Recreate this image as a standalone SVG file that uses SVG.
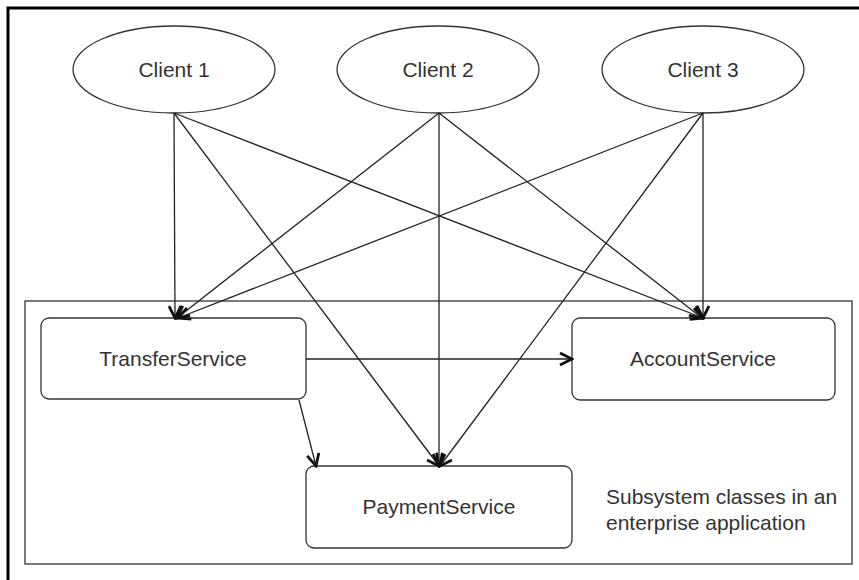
<svg xmlns="http://www.w3.org/2000/svg" width="859" height="580" viewBox="0 0 859 580">
<style>
.frame{fill:none;stroke:#000;stroke-width:3}
.box{fill:#fff;stroke:#333;stroke-width:1.3}
.lbl{font-family:"Liberation Sans",Arial,sans-serif;font-size:21px;fill:#333;text-anchor:middle}
.note{font-family:"Liberation Sans",Arial,sans-serif;font-size:21px;fill:#333}
.c{fill:none;stroke:#222;stroke-width:1.3;marker-end:url(#arr)}
</style>
<defs>
<marker id="arr" markerUnits="userSpaceOnUse" markerWidth="16" markerHeight="16" viewBox="0 0 16 16" refX="14" refY="8" orient="auto">
<path d="M2,2 L14,8 L2,14" fill="none" stroke="#111" stroke-width="2.8"/>
</marker>
</defs>
<rect width="859" height="580" fill="#fff"/>
<path class="frame" d="M8,590 V8 H870"/>
<g id="subsystem">
<rect class="box" x="25" y="301" width="827" height="263"/>
<text class="note" x="606" y="504">Subsystem classes in an</text>
<text class="note" x="606" y="530">enterprise application</text>
</g>
<g id="client1">
<ellipse class="box" cx="174" cy="69.5" rx="101" ry="43.5"/>
<text class="lbl" x="174" y="77">Client 1</text>
</g>
<g id="client2">
<ellipse class="box" cx="438" cy="69.5" rx="101" ry="43.5"/>
<text class="lbl" x="438" y="77">Client 2</text>
</g>
<g id="client3">
<ellipse class="box" cx="703" cy="69.5" rx="101" ry="43.5"/>
<text class="lbl" x="703" y="77">Client 3</text>
</g>
<g id="transfer">
<rect class="box" x="41" y="318" width="265" height="81" rx="8"/>
<text class="lbl" x="173" y="366">TransferService</text>
</g>
<g id="account">
<rect class="box" x="572" y="318" width="263" height="82" rx="8"/>
<text class="lbl" x="703" y="366">AccountService</text>
</g>
<g id="payment">
<rect class="box" x="306" y="466" width="266" height="82" rx="8"/>
<text class="lbl" x="439" y="514">PaymentService</text>
</g>
<g id="connectors">
<path class="c" d="M174,113 L175,318"/>
<path class="c" d="M174,113 L439,466"/>
<path class="c" d="M174,113 L703,318"/>
<path class="c" d="M439,113 L177,318"/>
<path class="c" d="M439,113 L439,466"/>
<path class="c" d="M439,113 L702,318"/>
<path class="c" d="M703,113 L178,318"/>
<path class="c" d="M703,113 L440,466"/>
<path class="c" d="M703,113 L703,318"/>
<path class="c" d="M306,359 L572,359"/>
<path class="c" d="M299,400 L316,466"/>
</g>
</svg>
